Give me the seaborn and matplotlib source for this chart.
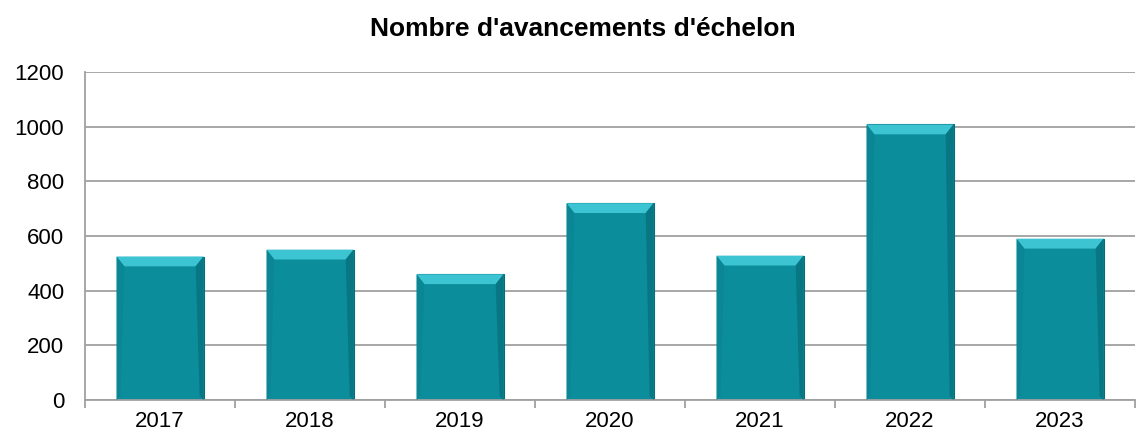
import matplotlib
matplotlib.use("Agg")
import matplotlib.pyplot as plt
import seaborn as sns
from matplotlib.patches import Polygon
from matplotlib.ticker import FixedLocator

# data
years = ["2017", "2018", "2019", "2020", "2021", "2022", "2023"]
avancements = [525, 550, 460, 720, 528, 1008, 590]

sns.set_style("white")
plt.rcParams['font.family'] = ['Liberation Sans', 'DejaVu Sans']
plt.rcParams['text.color'] = 'black'
plt.rcParams['xtick.color'] = 'black'
plt.rcParams['ytick.color'] = 'black'

fig = plt.figure(figsize=(11.36, 4.38), dpi=100)
ax = fig.add_axes([85/1136, 1 - 400/438, 1050/1136, 328/438])

sns.barplot(x=years, y=avancements, color="#0c8d9b", width=0.58,
            saturation=1, edgecolor="#076d78", linewidth=0.8, ax=ax)

# bevel effect on each bar
for p in ax.patches:
    x0, w, h = p.get_x(), p.get_width(), p.get_height()
    bev = 36
    dx = w * 0.09
    top = Polygon([(x0, h), (x0 + w, h), (x0 + w - dx, h - bev), (x0 + dx, h - bev)],
                  closed=True, facecolor="#3cc4d3", edgecolor="none", zorder=3)
    ax.add_patch(top)
    side = Polygon([(x0 + w, h), (x0 + w, 0), (x0 + w - dx * 0.5, bev * 0.4), (x0 + w - dx, h - bev)],
                   closed=True, facecolor="#087783", edgecolor="none", zorder=3)
    ax.add_patch(side)
    lside = Polygon([(x0, h), (x0, 0), (x0 + dx * 0.5, bev * 0.4), (x0 + dx, h - bev)],
                    closed=True, facecolor="#0b8694", edgecolor="none", zorder=3)
    ax.add_patch(lside)

ax.set_xlim(-0.5, 6.5)
ax.set_ylim(0, 1200)
ax.set_yticks(range(0, 1201, 200))
ax.yaxis.grid(True, color="#a0a0a0", linewidth=1.3)
ax.set_axisbelow(True)

for s in ["top", "right"]:
    ax.spines[s].set_visible(False)
for s in ["left", "bottom"]:
    ax.spines[s].set_color("#a0a0a0")
    ax.spines[s].set_linewidth(1.3)

ax.xaxis.set_minor_locator(FixedLocator([i - 0.5 for i in range(len(years) + 1)]))
ax.tick_params(axis="x", which="major", length=0, labelsize=16, pad=8)
ax.tick_params(axis="x", which="minor", length=6, color="#a0a0a0", width=1.3, direction="out", bottom=True)
ax.tick_params(axis="y", length=6, color="#a0a0a0", width=1.3, direction="out", labelsize=16, pad=9)
ax.set_xlabel("")
ax.set_ylabel("")

fig.text(583/1136, 1 - 29/438, "Nombre d'avancements d'échelon",
         fontsize=19, fontweight="bold", ha="center", va="center")

fig.savefig("out.png", dpi=100)
